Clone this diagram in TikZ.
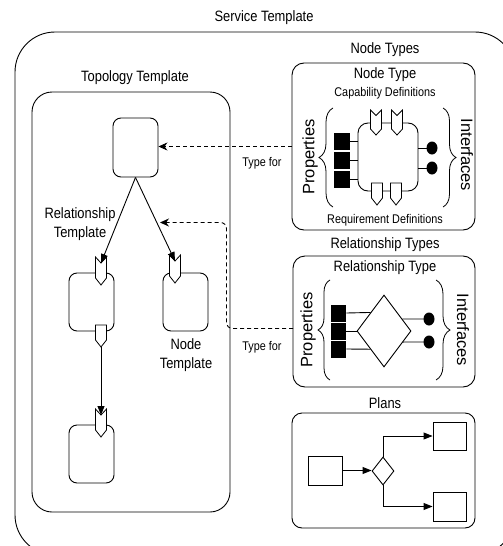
\documentclass[tikz,border=0pt]{standalone}
\usepackage{fontspec}
\setmainfont{Liberation Sans}[FakeStretch=0.86]
\newfontfamily\widefont{Liberation Sans}
\usetikzlibrary{arrows.meta,shapes.geometric,decorations.pathreplacing}
\begin{document}
\begin{tikzpicture}[x=1pt,y=-1pt,line width=0.9pt,
  lbl/.style={font=\fontsize{15}{19}\selectfont, inner sep=0pt, align=center},
  sml/.style={font=\fontsize{12.6}{15}\selectfont, inner sep=0pt},
  side/.style={font=\widefont\fontsize{16.5}{18}\selectfont, inner sep=0pt},
  box/.style={draw, inner sep=0pt, rounded corners=#1},
  plain/.style={draw, inner sep=0pt},
  sq/.style={fill=black, draw=none, inner sep=0pt, minimum width=16pt, minimum height=17pt},
  dot/.style={fill=black, ellipse, inner sep=0pt, minimum width=11pt, minimum height=13pt},
  brc/.style={decorate, decoration={brace, amplitude=#1}},
  tarr/.style={-{Triangle[length=9pt,width=7pt]}},
  darr/.style={dashed, dash pattern=on 4pt off 3pt, -{Stealth[length=9pt,width=8pt]}},
  capicon/.pic={\draw[fill=white,line width=0.8pt] (-5.5,0) -- (0,6) -- (5.5,0) -- (5.5,21) -- (0,28) -- (-5.5,21) -- cycle;},
  capsmall/.pic={\draw[fill=white,line width=0.8pt] (-5.5,0) -- (0,5.5) -- (5.5,0) -- (5.5,19) -- (0,25) -- (-5.5,19) -- cycle;},
  reqicon/.pic={\draw[fill=white,line width=0.8pt] (-5.5,0) -- (5.5,0) -- (5.5,15) -- (0,22) -- (-5.5,15) -- cycle;}
]
\useasboundingbox (0,0) rectangle (503,546);
\begin{scope}
  \clip (0,0) rectangle (503,546);
  \node[box=40pt, minimum width=500pt, minimum height=523pt] (svc) at (265,293.5) {};
\end{scope}
\node[lbl] (svct) at (264,18) {Service Template};

% Topology template
\node[lbl] (topt) at (135,78) {Topology Template};
\node[box=20pt, minimum width=198pt, minimum height=420pt] (topo) at (131,302) {};
\node[box=8pt, minimum width=45pt, minimum height=59pt] (tn) at (135.5,147.5) {};
\node[box=8pt, minimum width=45pt, minimum height=58pt] (ln) at (91.5,302) {};
\node[box=8pt, minimum width=45pt, minimum height=58pt] (rn) at (185.5,302) {};
\node[box=8pt, minimum width=45pt, minimum height=58pt] (bn) at (91.5,454) {};
\pic at (101,257) {capicon};
\pic at (175,255) {capicon};
\pic at (101,325) {reqicon};
\pic at (101,409) {capicon};
\coordinate (lnotch) at (101,263);
\coordinate (rnotch) at (175,261);
\coordinate (lreq) at (101,347);
\coordinate (bnotch) at (101,415);
\draw[tarr] (tn.south) -- (lnotch);
\draw[tarr] (tn.south) -- (rnotch);
\draw[tarr] (lreq) -- (bnotch);
\node[lbl] (rtl) at (80,224.5) {Relationship\\Template};
\node[lbl] (ntl) at (186,355) {Node\\Template};

% Node types
\node[lbl] (ntst) at (385,50) {Node Types};
\node[box=12pt, minimum width=183pt, minimum height=167pt] (ntbox) at (383.5,146.5) {};
\node[lbl] (ntt) at (385,75) {Node Type};
\node[sml] (capd) at (385,93) {Capability Definitions};
\node[sml] (reqd) at (385,220) {Requirement Definitions};
\node[side, rotate=90] (prop1) at (310,157) {Properties};
\node[side, rotate=-90] (intf1) at (467,155) {Interfaces};
\draw[brc=14pt, line width=0.8pt] (333,207) -- (333,108);
\draw[brc=13pt, line width=0.8pt] (443,108) -- (443,207);
\node[box=10pt, minimum width=60pt, minimum height=68pt] (core) at (388,157) {};
\pic at (376,110) {capsmall};
\pic at (397,110) {capsmall};
\pic at (377,183) {reqicon};
\pic at (396,183) {reqicon};
\node[sq] (p1) at (342,141) {};
\node[sq] (p2) at (342,160) {};
\node[sq] (p3) at (342,179) {};
\draw (p1.east) -- (p1.east -| core.west);
\draw (p2.east) -- (p2.east -| core.west);
\draw (p3.east) -- (p3.east -| core.west);
\node[dot] (i1) at (432,148) {};
\node[dot] (i2) at (432,168) {};
\draw (i1.center -| core.east) -- (i1.center);
\draw (i2.center -| core.east) -- (i2.center);

% Relationship types
\node[lbl] (rtst) at (385,245) {Relationship Types};
\node[box=12pt, minimum width=182pt, minimum height=131pt] (rtbox) at (384,321.5) {};
\node[lbl] (rtt) at (385,268) {Relationship Type};
\node[side, rotate=90] (prop2) at (308,330) {Properties};
\node[side, rotate=-90] (intf2) at (463,330) {Interfaces};
\draw[brc=12pt, line width=0.8pt] (330,380) -- (330,280);
\draw[brc=14pt, line width=0.8pt] (436,280) -- (436,380);
\node[draw, diamond, inner sep=0pt, minimum width=54pt, minimum height=72pt] (dia) at (384,331) {};
\node[sq, minimum width=15pt] (q1) at (338.5,313) {};
\node[sq, minimum width=15pt] (q2) at (338.5,331) {};
\node[sq, minimum width=15pt] (q3) at (338.5,349) {};
\draw (q1.east) -- (dia.126.87);
\draw (q2.east) -- (dia.west);
\draw (q3.east) -- (dia.233.13);
\node[dot] (j1) at (429,319) {};
\node[dot] (j2) at (429,342) {};
\draw (dia.33.69) -- (j1.center);
\draw (dia.-30.4) -- (j2.center);

% Plans
\node[lbl] (plt) at (385,403) {Plans};
\node[box=10pt, minimum width=183pt, minimum height=115pt] (plbox) at (383.5,470.5) {};
\node[plain, minimum width=34pt, minimum height=29pt] (pl) at (325,470.5) {};
\node[draw, diamond, inner sep=0pt, minimum width=22pt, minimum height=28pt] (pd) at (383,471) {};
\node[plain, minimum width=33pt, minimum height=28pt] (pt) at (449.5,436) {};
\node[plain, minimum width=33pt, minimum height=29pt] (pb) at (449.5,506.5) {};
\draw[tarr] (pl.east) -- (pl.east -| pd.west);
\draw[tarr] (pd.north) |- (pt.west);
\draw[tarr] (pd.south) |- (pb.west);

% Type for connectors
\draw[darr] (ntbox.west) -- (ntbox.west -| tn.east);
\coordinate (d2s) at (293,328.5);
\coordinate (d2c1) at (226.5,328.5);
\coordinate (d2c2) at (226.5,222.5);
\coordinate (d2e) at (160,222.5);
\draw[darr, rounded corners=6pt] (d2s) -- (d2c1) -- (d2c2) -- (d2e);
\node[sml] (tf1) at (262,163) {Type for};
\node[sml] (tf2) at (262,347) {Type for};
\end{tikzpicture}
\end{document}
